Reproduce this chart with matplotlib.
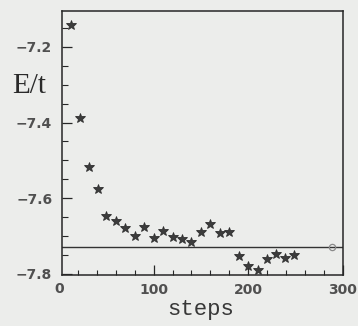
import matplotlib
matplotlib.use("Agg")
import matplotlib.pyplot as plt
from matplotlib.ticker import MultipleLocator
import matplotlib.transforms as mtransforms

# Energy per hopping amplitude versus optimisation step
steps = [13, 22, 32, 41, 50, 60, 70, 80, 90, 100, 110, 120, 130,
         140, 150, 160, 170, 180, 190, 200, 210, 220, 230, 239, 249]
energy = [-7.142, -7.388, -7.518, -7.575, -7.646, -7.659, -7.679, -7.701,
          -7.676, -7.705, -7.686, -7.703, -7.707, -7.716, -7.690, -7.669,
          -7.691, -7.690, -7.754, -7.779, -7.790, -7.761, -7.747, -7.759,
          -7.750]

# Reference (exact) energy and its marker
e_exact = -7.73
exact_step = [289]

xticks = [100, 200, 300]
xtick_labels = ["100", "200", "300"]
yticks = [-7.8, -7.6, -7.4, -7.2]
ytick_labels = ["\u22127.8", "\u22127.6", "\u22127.4", "\u22127.2"]

bg = "#ecedeb"
ink = "#262626"
label_col = "#505050"

fig = plt.figure(figsize=(3.58, 3.26), dpi=100, facecolor=bg)
ax = fig.add_axes([62 / 358, 1 - 275 / 326, (342.5 - 62) / 358, (275 - 11) / 326])
ax.set_facecolor(bg)

ax.axhline(e_exact, color="#333333", lw=1.0, zorder=2)
ax.plot(exact_step, [e_exact], marker="o", ms=4.5, mfc="none", mec="#8a8a8a",
        mew=0.9, ls="none", zorder=3)
ax.plot(steps, energy, ls="none", marker="*", ms=7, color="#3c3c3c",
        mec="#303030", mew=0.6, zorder=4)

ax.set_xlim(3, 300)
ax.set_ylim(-7.803, -7.105)

ax.set_xticks(xticks)
ax.set_xticklabels(xtick_labels)
ax.set_yticks(yticks)
ax.set_yticklabels(ytick_labels)
ax.xaxis.set_minor_locator(MultipleLocator(20))
ax.yaxis.set_minor_locator(MultipleLocator(0.05))

ax.tick_params(axis="both", which="both", direction="in", colors=ink,
               top=False, right=False)
ax.tick_params(axis="x", which="major", length=7, width=0.9, pad=6)
ax.tick_params(axis="x", which="minor", length=3.5, width=0.8)
ax.tick_params(axis="y", which="major", length=7, width=0.9, pad=7)
ax.tick_params(axis="y", which="minor", length=4, width=0.8)

for lab in ax.get_xticklabels() + ax.get_yticklabels():
    lab.set_fontfamily("DejaVu Sans")
    lab.set_fontweight("bold")
    lab.set_fontsize(10)
    lab.set_color(label_col)

# the origin label sits just left of the frame
trans = mtransforms.blended_transform_factory(ax.transData, ax.transAxes)
ax.text(0, -0.028, "0", transform=trans, ha="center", va="top",
        fontsize=10, fontweight="bold", color=label_col,
        fontfamily="DejaVu Sans")

for sp in ax.spines.values():
    sp.set_color(ink)
    sp.set_linewidth(1.1)

fig.text(201 / 358, 1 - 310 / 326, "steps", ha="center", va="center",
         fontsize=16, fontfamily="Liberation Mono", color="#383838")
fig.text(29 / 358, 1 - 86 / 326, "E/t", ha="center", va="center",
         fontsize=21, fontfamily="Liberation Serif", color="#2a2a2a")

fig.savefig("out.png", dpi=100, facecolor=bg)
